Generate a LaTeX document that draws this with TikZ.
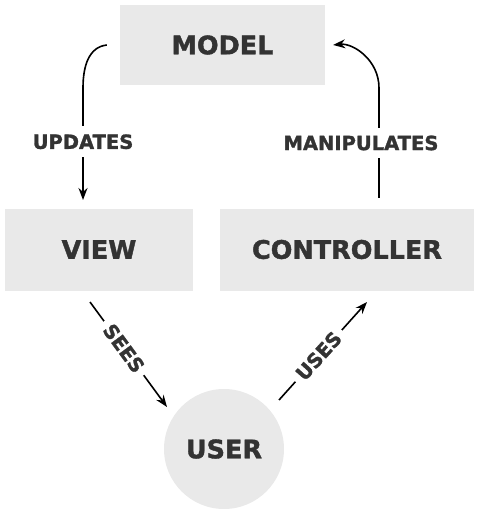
\documentclass[tikz,border=0pt]{standalone}
\usepackage{fontspec}
\setmainfont{DejaVu Sans}[BoldFeatures={FakeBold=1.5}]
\usetikzlibrary{arrows.meta}
\definecolor{boxgray}{RGB}{233,233,233}
\definecolor{textgray}{RGB}{51,51,51}

\begin{document}
\begin{tikzpicture}[
    x=1pt, y=-1pt,
    box/.style={rectangle, fill=boxgray, minimum height=82pt, inner sep=0pt, text=textgray, font=\fontsize{25.5}{30}\selectfont\bfseries},
    usr/.style={circle, fill=boxgray, minimum size=120pt, inner sep=0pt, text=textgray, font=\fontsize{25.5}{30}\selectfont\bfseries},
    lbl/.style={fill=white, inner xsep=2pt, inner ysep=8pt, text=textgray, font=\fontsize{19.5}{23}\selectfont\bfseries},
    arrow/.style={-{Stealth[length=12pt, width=9pt]}, line width=1.6pt}
]
\useasboundingbox (0,0) rectangle (487,529);

% Model
\node[box, minimum width=205pt, minimum height=80pt] (model) at (222.5,45) {MODEL};

% View and Controller
\node[box, minimum width=188pt] (view) at (99,249.5) {VIEW};
\node[box, minimum width=254pt] (controller) at (347,249.5) {CONTROLLER};

% User
\node[usr] (user) at (224,449) {USER};

% Arrow ends
\coordinate (updStart) at ([xshift=-13pt]model.west);
\coordinate (updEnd) at (83,200);
\coordinate (manStart) at (379,198);
\coordinate (manEnd) at ([xshift=8pt]model.east);
\coordinate (seeStart) at (90,302);
\coordinate (seeEnd) at (167,407);
\coordinate (useStart) at (279,400);
\coordinate (useEnd) at (367,302);

% Arrows
\draw[arrow] (updStart) .. controls +(-18,2) and +(0,-22) .. (83,88) -- (updEnd)
    node[lbl, pos=0.48] (updates) {UPDATES};
\draw[arrow] (manStart) -- (379,88) node[lbl, pos=0.5, xshift=-18pt] (manipulates) {MANIPULATES}
    .. controls +(0,-28) and +(20,-2) .. (manEnd);
\draw[arrow] (seeStart) -- (seeEnd) node[lbl, sloped, pos=0.44, inner ysep=1pt, inner xsep=6pt] (sees) {SEES};
\draw[arrow] (useStart) -- (useEnd) node[lbl, sloped, pos=0.45, inner ysep=1pt, inner xsep=6pt] (uses) {USES};

\end{tikzpicture}
\end{document}
